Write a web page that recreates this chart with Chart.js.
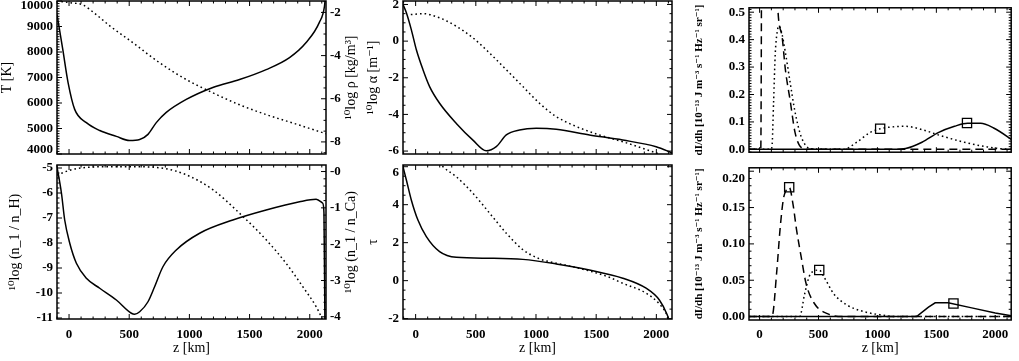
<!DOCTYPE html>
<html>
<head>
<meta charset="utf-8">
<title>Model atmosphere and contribution functions</title>
<script src="https://cdn.jsdelivr.net/npm/chart.js@4.4.1/dist/chart.umd.min.js"></script>
<style>
  body { margin: 0; background: #fff; }
  #wrap { position: relative; width: 1019px; height: 361px; overflow: hidden; }
  canvas { position: absolute; }
</style>
</head>
<body>
<div id="wrap">
  <canvas id="tempPlot" width="365" height="160" style="left:0;top:0"></canvas>
  <canvas id="ionPlot" width="365" height="201" style="left:0;top:160px"></canvas>
  <canvas id="alphaPlot" width="325" height="160" style="left:365px;top:0"></canvas>
  <canvas id="tauPlot" width="325" height="201" style="left:365px;top:160px"></canvas>
  <canvas id="contribTop" width="329" height="160" style="left:690px;top:0"></canvas>
  <canvas id="contribBot" width="329" height="201" style="left:690px;top:160px"></canvas>
</div>
<script>
// ---- data ----
const zTicks = [0, 500, 1000, 1500, 2000];
const zLabels = ['0', '500', '1000', '1500', '2000'];

// top left: temperature (solid, left axis) and log density (dotted, right axis)
const tempZ = [-100, -52, -8, 47, 144, 255, 393, 503, 587, 656, 725, 808, 974, 1195, 1417, 1638, 1832, 1970, 2080, 2122, 2135];
const tempK = [9470, 8100, 6800, 5750, 5230, 4920, 4690, 4530, 4570, 4770, 5230, 5630, 6140, 6610, 6920, 7310, 7780, 8370, 9160, 9780, 10400];
const rhoZ = [-100, -77, 10, 114, 230, 338, 530, 752, 977, 1193, 1417, 1641, 1857, 2135];
const rhoLog = [-1.42, -1.47, -1.55, -1.65, -2.12, -2.62, -3.40, -4.33, -5.12, -5.72, -6.28, -6.74, -7.12, -7.62];
const tempTicks = [4000, 5000, 6000, 7000, 8000, 9000, 10000];
const tempLabels = ['4000', '5000', '6000', '7000', '8000', '9000', '10000'];
const rhoTicks = [-8, -6, -4, -2];
const rhoLabels = ['-8', '-6', '-4', '-2'];

// bottom left: ionisation fractions
const nHZ = [-100, -63, -36, 6, 61, 144, 255, 393, 518, 545, 587, 656, 711, 780, 891, 1085, 1361, 1638, 1915, 2053, 2108, 2118, 2126];
const nHLog = [-4.95, -6.01, -7.08, -8.01, -8.81, -9.41, -9.81, -10.28, -10.81, -10.85, -10.75, -10.35, -9.75, -8.95, -8.28, -7.61, -7.08, -6.68, -6.35, -6.25, -6.41, -6.8, -11.2];
const nCaZ = [-100, 0, 100, 300, 600, 800, 974, 1195, 1417, 1638, 1804, 1942, 2053, 2095, 2135];
const nCaLog = [-0.10, 0.03, 0.10, 0.13, 0.13, 0.08, -0.09, -0.50, -1.15, -1.88, -2.53, -3.17, -3.72, -4.0, -4.35];
const nHTicks = [-11, -10, -9, -8, -7, -6, -5];
const nHLabels = ['-11', '-10', '-9', '-8', '-7', '-6', '-5'];
const nCaTicks = [-4, -3, -2, -1, 0];
const nCaLabels = ['-4', '-3', '-2', '-1', '-0'];

// top middle: log extinction
const alphaSolidZ = [-105, -77, -36, 6, 61, 116, 199, 338, 476, 587, 670, 753, 863, 1002, 1168, 1444, 1721, 1998, 2108, 2135];
const alphaSolid = [2.0, 1.55, 0.63, -0.47, -1.56, -2.48, -3.39, -4.49, -5.4, -5.98, -5.76, -5.12, -4.85, -4.76, -4.81, -5.12, -5.4, -5.76, -6.04, -6.12];
const alphaDotZ = [-40, 61, 199, 338, 476, 614, 753, 891, 1029, 1168, 1306, 1527, 1721, 1970, 2135];
const alphaDot = [1.45, 1.50, 1.27, 0.81, 0.18, -0.65, -1.56, -2.48, -3.39, -4.12, -4.58, -5.12, -5.49, -6.04, -6.4];
const alphaTicks = [-6, -4, -2, 0, 2];
const alphaLabels = ['-6', '-4', '-2', '0', '2'];

// bottom middle: optical depth
const tauSolidZ = [-105, -77, -36, 19, 89, 199, 338, 614, 891, 1168, 1444, 1721, 1915, 2025, 2090, 2115];
const tauSolid = [6.0, 5.3, 4.25, 3.19, 2.32, 1.53, 1.23, 1.18, 1.12, 0.88, 0.56, 0.13, -0.4, -1.02, -1.8, -2.3];
const tauDotZ = [150, 227, 338, 476, 614, 753, 891, 1029, 1168, 1306, 1450, 1600, 1721, 1915, 2025, 2081, 2105];
const tauDot = [6.6, 6.0, 5.47, 4.6, 3.56, 2.5, 1.63, 1.15, 0.92, 0.73, 0.5, 0.2, -0.14, -0.66, -1.23, -1.72, -2.2];
const tauTicks = [-2, 0, 2, 4, 6];
const tauLabels = ['-2', '0', '2', '4', '6'];

// top right: contribution functions
const cfDashTopZ = [-90, 10, 14, 18, 60, 130, 154, 191, 219, 260, 301, 355, 420, 2135];
const cfDashTop = [0, 0, 0.3, 0.9, 1.6, 0.9, 0.52, 0.41, 0.29, 0.176, 0.061, 0.006, 0, 0];
const cfDotTopZ = [-90, 95, 105, 119, 133, 150, 165, 190, 216, 257, 299, 354, 437, 711, 824, 935, 1023, 1129, 1239, 1378, 1544, 1737, 1931, 2111, 2135];
const cfDotTop = [0, 0, 0.01, 0.176, 0.35, 0.43, 0.45, 0.42, 0.36, 0.25, 0.14, 0.045, 0.002, 0, 0.026, 0.061, 0.075, 0.082, 0.084, 0.072, 0.049, 0.026, 0.009, 0.001, 0.001];
const cfSolidTopZ = [-90, 1150, 1239, 1378, 1516, 1654, 1765, 1876, 1986, 2111, 2135];
const cfSolidTop = [0, 0, 0.003, 0.026, 0.061, 0.084, 0.095, 0.095, 0.078, 0.044, 0.036];
const cfMarkTopZ = [1023, 1760];
const cfMarkTop = [0.075, 0.096];
const cfTopTicks = [0, 0.1, 0.2, 0.3, 0.4, 0.5];
const cfTopLabels = ['0.0', '0.1', '0.2', '0.3', '0.4', '0.5'];

// bottom right
const cfDashBotZ = [-90, 105, 146, 174, 202, 229, 251, 285, 312, 354, 395, 465, 575, 700, 2135];
const cfDashBot = [0, 0, 0.063, 0.121, 0.162, 0.175, 0.178, 0.153, 0.121, 0.081, 0.045, 0.018, 0.004, 0, 0];
const cfDotBotZ = [-90, 340, 382, 423, 465, 506, 548, 631, 741, 880, 1046, 1150, 2135];
const cfDotBot = [0, 0, 0.031, 0.056, 0.063, 0.064, 0.054, 0.031, 0.016, 0.007, 0.002, 0, 0];
const cfSolidBotZ = [-90, 1321, 1340, 1433, 1490, 1600, 1800, 2000, 2135];
const cfSolidBot = [0, 0, 0.001, 0.013, 0.019, 0.019, 0.012, 0.005, 0.001];
const cfMarkBotZ = [251, 506, 1645];
const cfMarkBot = [0.178, 0.064, 0.018];
const cfBotTicks = [0, 0.05, 0.1, 0.15, 0.2];
const cfBotLabels = ['0.00', '0.05', '0.10', '0.15', '0.20'];

// ---- drawing ----
const SERIF = '"Liberation Serif", "DejaVu Serif", serif';
const DASH = { solid: [], dotted: [1.6, 3], dashed: [8, 5] };

function series(zs, vs, style, axisId, straight) {
  return {
    data: zs.map((z, i) => ({ x: z, y: vs[i] })),
    yAxisID: axisId || 'y',
    borderColor: '#000',
    borderWidth: 1.5,
    borderDash: DASH[style],
    pointRadius: 0,
    cubicInterpolationMode: straight ? 'default' : 'monotone',
    tension: 0,
    fill: false,
    clip: 0
  };
}

function markers(zs, vs) {
  return {
    data: zs.map((z, i) => ({ x: z, y: vs[i] })),
    showLine: false,
    pointStyle: 'rect',
    pointRadius: 6.5,
    pointBorderWidth: 1.3,
    pointBorderColor: '#000',
    pointBackgroundColor: 'rgba(0,0,0,0)'
  };
}

function axis(pos, min, max, vals, labels, o) {
  return {
    type: 'linear', position: pos, min: min, max: max,
    grid: { display: false, drawTicks: false },
    border: { display: false },
    afterBuildTicks: s => { s.ticks = vals.map(v => ({ value: v })); },
    afterFit: s => {
      // fixed axis sizes, and no extra room for labels hanging past the box
      if (s.isHorizontal()) s.height = o.size; else s.width = o.size;
      s.paddingTop = 0; s.paddingBottom = 0; s.paddingLeft = 0; s.paddingRight = 0;
    },
    ticks: {
      display: o.labels !== false,
      autoSkip: false, maxRotation: 0,
      padding: o.pad === undefined ? 4 : o.pad,
      color: '#000',
      font: { family: SERIF, size: 13, weight: 'bold', lineHeight: o.lh || 1.2 },
      callback: (v, i) => {
        const t = labels[i];
        if (o.shiftLow && i === 0) return [t, ''];
        if (o.shiftHigh && i === vals.length - 1) return ['', t];
        return t;
      }
    },
    title: o.title ? {
      display: true, text: o.title, color: '#000',
      font: { family: SERIF, size: o.titleSize || 14, weight: o.titleWeight || 'normal', lineHeight: 1 },
      padding: o.titlePad || { top: 0, bottom: 0 }
    } : { display: false }
  };
}

// IDL style box with inward ticks on all four sides
const idlFrame = {
  id: 'idlFrame',
  afterDatasetsDraw(chart, args, opts) {
    const { ctx, chartArea: a, scales } = chart;
    ctx.save();
    ctx.strokeStyle = '#000';
    ctx.lineWidth = 1;
    const marks = (scale, step, draw) => {
      const major = scale.ticks.map(t => t.value);
      const start = Math.ceil(scale.min / step - 1e-9);
      const end = Math.floor(scale.max / step + 1e-9);
      for (let k = start; k <= end; k++) {
        const v = k * step;
        const isMajor = major.some(m => Math.abs(m - v) < step / 10);
        draw(scale.getPixelForValue(v), isMajor ? 5 : 2.5);
      }
    };
    ctx.beginPath();
    marks(scales.x, opts.xMinor, (p, len) => {
      ctx.moveTo(p, a.bottom); ctx.lineTo(p, a.bottom - len);
      ctx.moveTo(p, a.top); ctx.lineTo(p, a.top + len);
    });
    marks(scales.y, opts.yMinor, (p, len) => {
      ctx.moveTo(a.left, p); ctx.lineTo(a.left + len, p);
      if (!scales.y2) { ctx.moveTo(a.right, p); ctx.lineTo(a.right - len, p); }
    });
    if (scales.y2) {
      marks(scales.y2, opts.y2Minor, (p, len) => { ctx.moveTo(a.right, p); ctx.lineTo(a.right - len, p); });
    }
    ctx.stroke();
    ctx.lineWidth = 1.5;
    ctx.strokeRect(a.left, a.top, a.right - a.left, a.bottom - a.top);
    if (opts.rightTitle) {
      ctx.translate(a.right + 25, (a.top + a.bottom) / 2);
      ctx.rotate(-Math.PI / 2);
      ctx.font = '14px ' + SERIF;
      ctx.fillStyle = '#000';
      ctx.textAlign = 'center';
      ctx.textBaseline = 'middle';
      ctx.fillText(opts.rightTitle, 0, 0);
    }
    ctx.restore();
  }
};

function panel(id, datasets, scales, padding, frame) {
  new Chart(document.getElementById(id), {
    type: 'line',
    data: { datasets: datasets },
    options: {
      responsive: false, animation: false, devicePixelRatio: 1,
      layout: { padding: padding },
      plugins: { legend: { display: false }, tooltip: { enabled: false }, idlFrame: frame },
      scales: scales
    },
    plugins: [idlFrame]
  });
}

const xTitle = 'z [km]';
const cfTitle = 'dI/dh [10\u207B\u00B9\u00B3 J m\u207B\u00B3 s\u207B\u00B9 Hz\u207B\u00B9 sr\u207B\u00B9]';

panel('tempPlot',
  [series(tempZ, tempK, 'solid'), series(rhoZ, rhoLog, 'dotted', 'y2')],
  {
    x: axis('bottom', -100, 2135, zTicks, zLabels, { size: 6, labels: false }),
    y: axis('left', 4000, 10000, tempTicks, tempLabels, { size: 57, lh: 0.7, shiftLow: true, shiftHigh: true, title: 'T [K]' }),
    y2: axis('right', -8.56, -1.47, rhoTicks, rhoLabels, { size: 39 })
  },
  { top: 1, left: 0, right: 0, bottom: 0 },
  { xMinor: 100, yMinor: 100, y2Minor: 0.5, rightTitle: '\u00B9\u2070log \u03C1 [kg/m\u00B3]' });

panel('ionPlot',
  [series(nHZ, nHLog, 'solid'), series(nCaZ, nCaLog, 'dotted', 'y2')],
  {
    x: axis('bottom', -100, 2135, zTicks, zLabels, { size: 42, pad: 8, title: xTitle, titlePad: { top: 0, bottom: 6 } }),
    y: axis('left', -11.04, -4.88, nHTicks, nHLabels, { size: 57, title: '\u00B9\u2070log (n_1 / n_H)', titlePad: { top: 8, bottom: 0 } }),
    y2: axis('right', -4.06, 0.18, nCaTicks, nCaLabels, { size: 39 })
  },
  { top: 5, left: 0, right: 0, bottom: 0 },
  { xMinor: 100, yMinor: 0.2, y2Minor: 0.2, rightTitle: '\u00B9\u2070log (n_1 / n_Ca)' });

panel('alphaPlot',
  [series(alphaSolidZ, alphaSolid, 'solid'), series(alphaDotZ, alphaDot, 'dotted')],
  {
    x: axis('bottom', -105, 2130, zTicks, zLabels, { size: 6, labels: false }),
    y: axis('left', -6.16, 2.19, alphaTicks, alphaLabels, { size: 38, title: '\u00B9\u2070log \u03B1 [m\u207B\u00B9]', titlePad: { top: 1, bottom: 0 } })
  },
  { top: 1, left: 0, right: 18, bottom: 0 },
  { xMinor: 100, yMinor: 0.5 });

panel('tauPlot',
  [series(tauSolidZ, tauSolid, 'solid'), series(tauDotZ, tauDot, 'dotted')],
  {
    x: axis('bottom', -105, 2130, zTicks, zLabels, { size: 42, pad: 8, title: xTitle, titlePad: { top: 0, bottom: 6 } }),
    y: axis('left', -2.02, 6.09, tauTicks, tauLabels, { size: 38, lh: 0.92, shiftHigh: true, title: '\u03C4', titlePad: { top: 1, bottom: 0 } })
  },
  { top: 5, left: 0, right: 18, bottom: 0 },
  { xMinor: 100, yMinor: 0.5 });

panel('contribTop',
  [series(cfDashTopZ, cfDashTop, 'dashed'), series(cfDotTopZ, cfDotTop, 'dotted'),
   series(cfSolidTopZ, cfSolidTop, 'solid'), markers(cfMarkTopZ, cfMarkTop)],
  {
    x: axis('bottom', -90, 2135, zTicks, zLabels, { size: 6, labels: false }),
    y: axis('left', -0.0103, 0.516, cfTopTicks, cfTopLabels, { size: 59, title: cfTitle, titleSize: 11, titleWeight: 'bold', titlePad: { top: 4, bottom: 0 } })
  },
  { top: 1, left: 0, right: 2, bottom: 0 },
  { xMinor: 100, yMinor: 0.01 });

panel('contribBot',
  [series(cfDashBotZ, cfDashBot, 'dashed'), series(cfDotBotZ, cfDotBot, 'dotted'),
   series(cfSolidBotZ, cfSolidBot, 'solid', 'y', true), markers(cfMarkBotZ, cfMarkBot)],
  {
    x: axis('bottom', -90, 2135, zTicks, zLabels, { size: 41, pad: 7, title: xTitle, titlePad: { top: 0, bottom: 6 } }),
    y: axis('left', -0.0047, 0.2047, cfBotTicks, cfBotLabels, { size: 59, shiftHigh: true, title: cfTitle, titleSize: 11, titleWeight: 'bold', titlePad: { top: 4, bottom: 0 } })
  },
  { top: 5, left: 0, right: 2, bottom: 0 },
  { xMinor: 100, yMinor: 0.01 });
</script>
</body>
</html>
